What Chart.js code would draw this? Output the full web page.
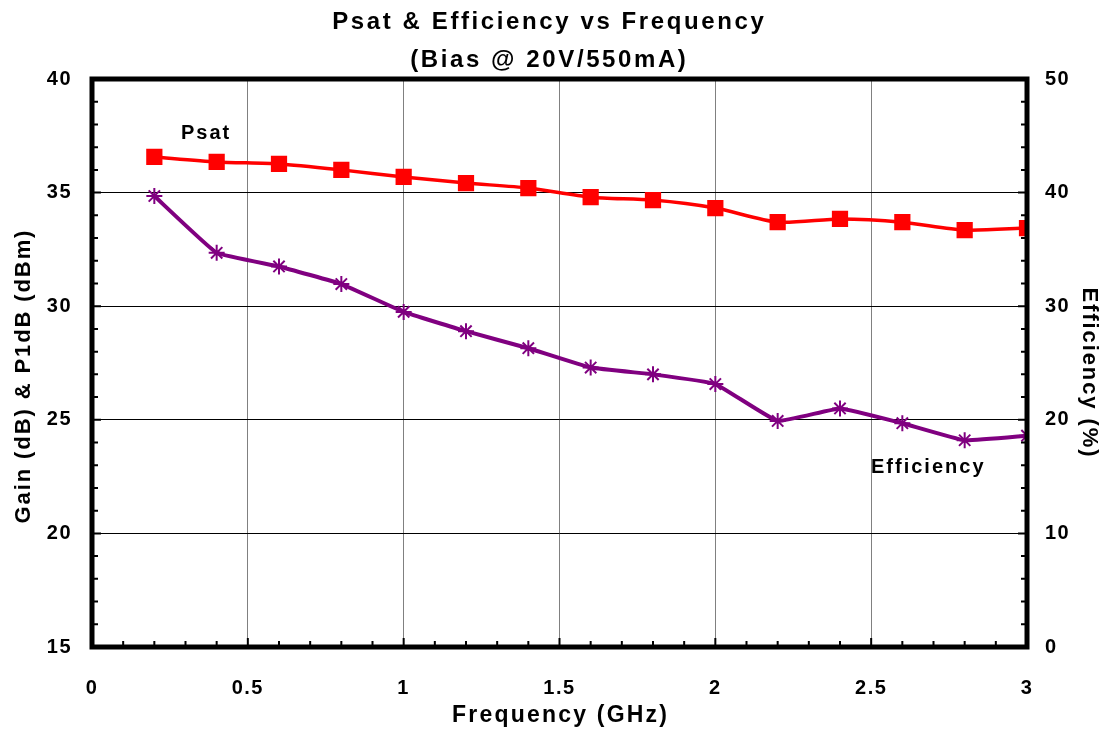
<!DOCTYPE html>
<html>
<head>
<meta charset="utf-8">
<script src="https://cdn.jsdelivr.net/npm/chart.js@4/dist/chart.umd.min.js"></script>
<style>
  body { margin: 0; background: #fff; }
  #wrap { width: 1107px; height: 734px; }
</style>
</head>
<body>
<div id="wrap"><canvas id="psatchart" width="1107" height="734"></canvas></div>
<script>
/* data */
var freq = [0.2, 0.4, 0.6, 0.8, 1.0, 1.2, 1.4, 1.6, 1.8, 2.0, 2.2, 2.4, 2.6, 2.8, 3.0];
var psat = [36.57, 36.35, 36.26, 36.0, 35.69, 35.42, 35.2, 34.8, 34.67, 34.32, 33.7, 33.84, 33.7, 33.35, 33.44];
var efficiency = [39.7, 34.7, 33.5, 31.95, 29.5, 27.8, 26.3, 24.6, 24.0, 23.15, 19.9, 21.0, 19.7, 18.2, 18.6];

var xTicks = [0, 0.5, 1, 1.5, 2, 2.5, 3];
var leftTicks = [15, 20, 25, 30, 35, 40];
var rightTicks = [0, 10, 20, 30, 40, 50];

var titleLines = ['Psat & Efficiency vs Frequency', '(Bias @ 20V/550mA)'];
var xTitle = 'Frequency (GHz)';
var yTitle = 'Gain (dB) & P1dB (dBm)';
var y1Title = 'Efficiency (%)';

// series labels drawn inside the plot
var labels = [
  { text: 'Psat', x: 0.363, y: 37.62, axis: 'y' },
  { text: 'Efficiency', x: 2.68, y: 15.76, axis: 'y1' }
];

var fontFam = '"Liberation Sans", Arial, sans-serif';

function pts(xs, ys) {
  return xs.map(function (v, i) { return { x: v, y: ys[i] }; });
}

/* the old excel text is spaced out a bit (tick labels) */
var spacingPlugin = {
  id: 'spacing',
  beforeUpdate: function (chart) { chart.ctx.letterSpacing = '1.5px'; },
  beforeLayout: function (chart) { chart.ctx.letterSpacing = '1.5px'; },
  beforeDraw: function (chart) { chart.ctx.letterSpacing = '1.5px'; }
};

// centred text with letter spacing, trailing gap compensated
function spacedText(c, txt, x, y, sp, rot) {
  c.save();
  c.letterSpacing = sp + 'px';
  c.translate(x, y);
  if (rot) c.rotate(rot);
  c.textAlign = 'center';
  c.fillText(txt, sp / 2, 0);
  c.restore();
}

/* frame, inward ticks, titles, text labels */
var framePlugin = {
  id: 'frame',
  afterDatasetsDraw: function (chart) {
    var c = chart.ctx, a = chart.chartArea;
    var sx = chart.scales.x, sy = chart.scales.y, sy1 = chart.scales.y1;
    c.save();
    c.strokeStyle = '#000';
    c.lineWidth = 2;
    c.beginPath();
    // x minor ticks every 0.1
    for (var i = 0; i <= 30; i++) {
      var px = sx.getPixelForValue(i / 10);
      var len = (i % 5 == 0) ? 9 : 6;
      c.moveTo(px, a.bottom); c.lineTo(px, a.bottom - len);
    }
    // left minor ticks every 1
    for (var j = 15; j <= 40; j++) {
      var py = sy.getPixelForValue(j);
      var l2 = (j % 5 == 0) ? 9 : 6;
      c.moveTo(a.left, py); c.lineTo(a.left + l2, py);
    }
    // right minor ticks every 2
    for (var k = 0; k <= 50; k += 2) {
      var py1 = sy1.getPixelForValue(k);
      var l3 = (k % 10 == 0) ? 9 : 6;
      c.moveTo(a.right, py1); c.lineTo(a.right - l3, py1);
    }
    c.stroke();
    c.lineWidth = 5;
    c.strokeRect(a.left, a.top, a.right - a.left, a.bottom - a.top);

    c.fillStyle = '#000';
    c.textBaseline = 'middle';
    c.font = 'bold 20px ' + fontFam;
    labels.forEach(function (lb) {
      var s = chart.scales[lb.axis];
      spacedText(c, lb.text, sx.getPixelForValue(lb.x), s.getPixelForValue(lb.y), 2);
    });

    // chart title
    c.textBaseline = 'alphabetic';
    c.font = 'bold 24px ' + fontFam;
    spacedText(c, titleLines[0], 548, 29, 2.6);
    spacedText(c, titleLines[1], 548, 67, 2.6);

    // axis titles
    var mid = (a.top + a.bottom) / 2;
    c.font = 'bold 23px ' + fontFam;
    spacedText(c, xTitle, (a.left + a.right) / 2, 722, 2.2);
    c.textBaseline = 'middle';
    c.font = 'bold 22px ' + fontFam;
    spacedText(c, yTitle, 24, mid + 14, 1.9, -Math.PI / 2);
    spacedText(c, y1Title, 1089, mid + 9, 1.9, Math.PI / 2);
    c.restore();
  }
};

var ctx = document.getElementById('psatchart').getContext('2d');
var psatchart = new Chart(ctx, {
  type: 'line',
  data: {
    datasets: [{
      label: 'Psat',
      data: pts(freq, psat),
      yAxisID: 'y',
      borderColor: '#ff0000',
      backgroundColor: '#ff0000',
      borderWidth: 3.5,
      pointStyle: 'rect',
      pointRadius: 9,
      pointHoverRadius: 9,
      tension: 0.25
    }, {
      label: 'Efficiency',
      data: pts(freq, efficiency),
      yAxisID: 'y1',
      borderColor: '#800080',
      backgroundColor: '#800080',
      borderWidth: 4,
      pointStyle: 'star',
      pointRadius: 8,
      pointBorderWidth: 2,
      pointHoverRadius: 8,
      tension: 0.1
    }]
  },
  options: {
    responsive: false,
    animation: false,
    layout: { padding: { top: 79, left: 0, right: 0, bottom: 0 } },
    plugins: {
      legend: { display: false },
      tooltip: { enabled: false },
      title: { display: false }
    },
    scales: {
      x: {
        type: 'linear',
        min: 0, max: 3,
        afterBuildTicks: function (s) { s.ticks = xTicks.map(function (v) { return { value: v }; }); },
        afterFit: function (s) { s.height = 87; },
        grid: { color: '#808080', lineWidth: 1, drawTicks: false },
        border: { display: false },
        ticks: { color: '#000', padding: 29, font: { family: fontFam, size: 20, weight: 'bold' },
                 callback: function (v) { return String(v); } }
      },
      y: {
        position: 'left',
        min: 15, max: 40,
        afterBuildTicks: function (s) { s.ticks = leftTicks.map(function (v) { return { value: v }; }); },
        afterFit: function (s) { s.width = 92; },
        grid: { color: '#000', lineWidth: 1, drawTicks: false },
        border: { display: false },
        ticks: { color: '#000', padding: 20, font: { family: fontFam, size: 20, weight: 'bold' } }
      },
      y1: {
        position: 'right',
        min: 0, max: 50,
        afterBuildTicks: function (s) { s.ticks = rightTicks.map(function (v) { return { value: v }; }); },
        afterFit: function (s) { s.width = 80; },
        grid: { display: false, drawTicks: false },
        border: { display: false },
        ticks: { color: '#000', padding: 18, font: { family: fontFam, size: 20, weight: 'bold' } }
      }
    }
  },
  plugins: [spacingPlugin, framePlugin]
});
</script>
</body>
</html>
